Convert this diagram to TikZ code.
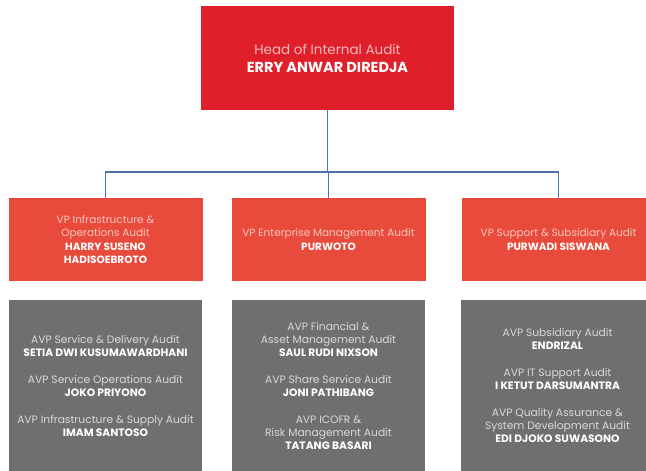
\documentclass[tikz,border=0pt]{standalone}
\usepackage{fontspec}
\setmainfont{Poppins}
\usetikzlibrary{positioning,calc}
\definecolor{HeadRed}{HTML}{DF1F2A}
\definecolor{VPRed}{HTML}{E84A3B}
\definecolor{AVPGray}{HTML}{6F6F6F}
\definecolor{LinkBlue}{HTML}{4F73A8}
\definecolor{HeadTxt}{HTML}{F6B9BC}
\definecolor{VPTxt}{HTML}{F9C8BE}
\definecolor{AVPTxt}{HTML}{D9D9D9}

\tikzset{
  headbox/.style={fill=HeadRed, minimum width=253pt, minimum height=104pt,
    inner sep=0pt, align=center, text=white,
    font=\fontsize{13.5}{18}\selectfont},
  vpbox/.style={fill=VPRed, minimum width=194pt, minimum height=83pt,
    inner sep=0pt, align=center, text=white,
    font=\fontsize{10.5}{13.5}\selectfont},
  avpbox/.style={fill=AVPGray, minimum width=193pt, minimum height=171pt,
    inner sep=0pt, align=center, text=white,
    font=\fontsize{10.7}{13}\selectfont},
  link/.style={draw=LinkBlue, line width=1.6pt}
}

\begin{document}
\begin{tikzpicture}[x=1pt,y=-1pt]
\useasboundingbox (0,0) rectangle (646,471);
\clip (0,0) rectangle (646,471);

% head of internal audit
\node[headbox] (head) at (327.5,58) {%
  {\color{HeadTxt}Head of Internal Audit}\\
  {\fontsize{14.5}{18}\selectfont\bfseries ERRY ANWAR DIREDJA}};

% vice presidents
\node[vpbox] (vp1) at (105.5,239.5) {%
  {\color{VPTxt}VP Infrastructure \&}\\
  {\color{VPTxt}Operations Audit}\\
  \textbf{HARRY SUSENO}\\
  \textbf{HADISOEBROTO}};
\node[vpbox] (vp2) at (328.5,239.5) {%
  {\color{VPTxt}VP Enterprise Management Audit}\\
  \textbf{PURWOTO}};
\node[vpbox] (vp3) at (558.5,239.5) {%
  {\color{VPTxt}VP Support \& Subsidiary Audit}\\
  \textbf{PURWADI SISWANA}};

% assistant vice presidents
\node[avpbox] (avp1) at (105.5,385.5) {%
  {\color{AVPTxt}AVP Service \& Delivery Audit}\\
  \textbf{SETIA DWI KUSUMAWARDHANI}\\[14pt]
  {\color{AVPTxt}AVP Service Operations Audit}\\
  \textbf{JOKO PRIYONO}\\[14pt]
  {\color{AVPTxt}AVP Infrastructure \& Supply Audit}\\
  \textbf{IMAM SANTOSO}};
\node[avpbox] (avp2) at (328.5,385.5) {%
  {\color{AVPTxt}AVP Financial \&}\\
  {\color{AVPTxt}Asset Management Audit}\\
  \textbf{SAUL RUDI NIXSON}\\[14pt]
  {\color{AVPTxt}AVP Share Service Audit}\\
  \textbf{JONI PATHIBANG}\\[14pt]
  {\color{AVPTxt}AVP ICOFR \&}\\
  {\color{AVPTxt}Risk Management Audit}\\
  \textbf{TATANG BASARI}};
\node[avpbox] (avp3) at (557.5,385.5) {%
  {\color{AVPTxt}AVP Subsidiary Audit}\\
  \textbf{ENDRIZAL}\\[14pt]
  {\color{AVPTxt}AVP IT Support Audit}\\
  \textbf{I KETUT DARSUMANTRA}\\[14pt]
  {\color{AVPTxt}AVP Quality Assurance \&}\\
  {\color{AVPTxt}System Development Audit}\\
  \textbf{EDI DJOKO SUWASONO}};

% connectors
\coordinate (bus) at (327.5,172);
\draw[link] (head.south) -- (bus);
\draw[link] (vp1.north) |- (bus) -| (vp3.north);
\draw[link] (bus -| vp2.north) -- (vp2.north);
\end{tikzpicture}
\end{document}
